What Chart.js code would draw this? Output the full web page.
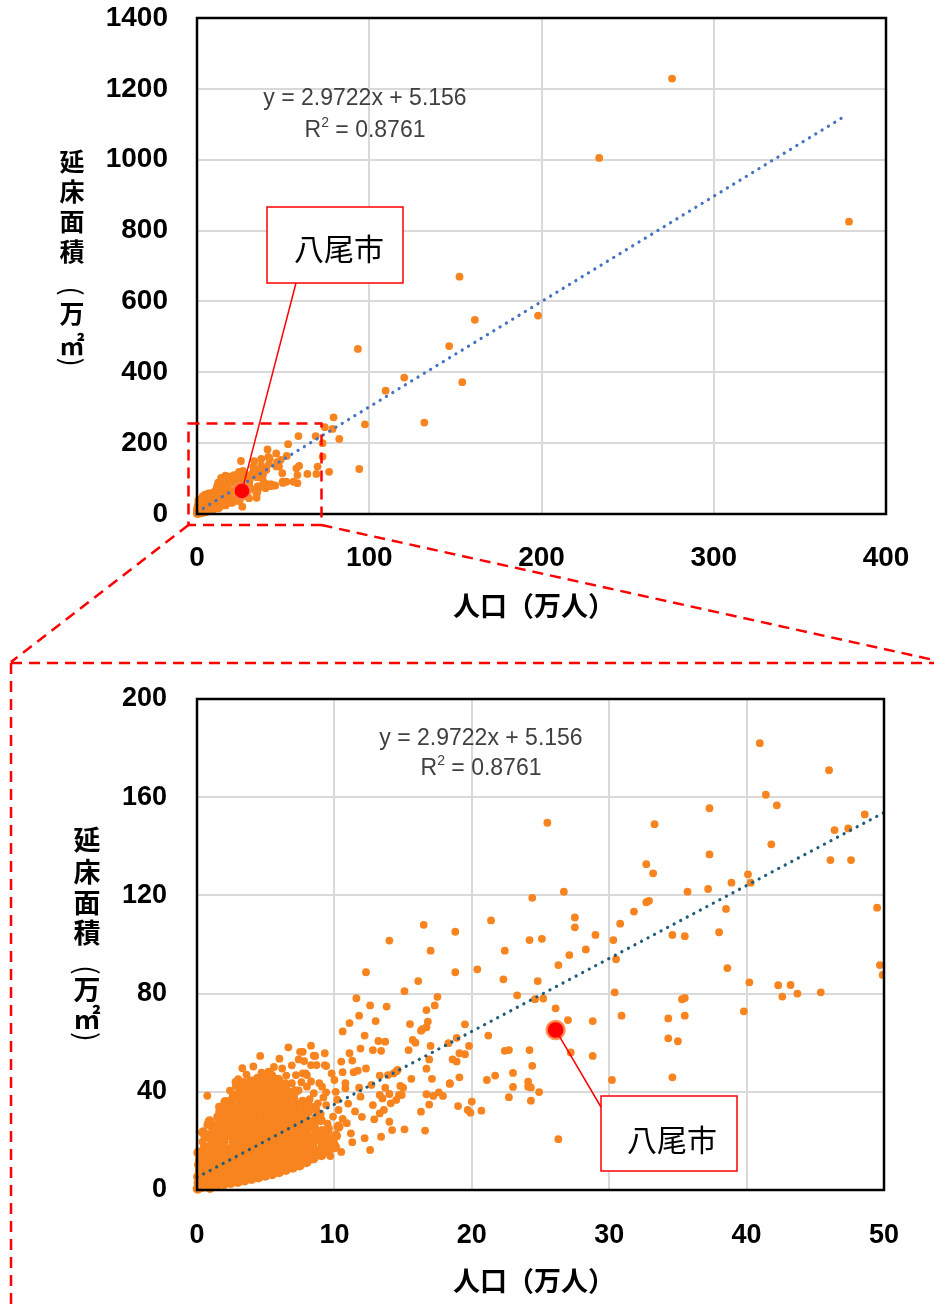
<!DOCTYPE html>
<html><head><meta charset="utf-8">
<script src="https://cdn.jsdelivr.net/npm/chart.js@4.4.1/dist/chart.umd.min.js"></script>
<style>
html,body{margin:0;padding:0;background:#fff;width:934px;height:1309px;overflow:hidden}
canvas{position:absolute;left:0}
#c1{top:0}
#c2{top:660px}
#ov{top:0;pointer-events:none}
</style></head><body>
<canvas id="c1" width="934" height="640"></canvas>
<canvas id="c2" width="934" height="649"></canvas>
<canvas id="ov" width="934" height="1309"></canvas>
<script>
// ---------- DATA (人口 万人, 延床面積 万㎡) ----------
const denseCluster = [
[0.05,0.6],[0.12,2.9],[0.08,5.4],[0.21,7.8],[0.15,10.3],[0.27,12.9],[0.10,15.2],[0.33,4.1],[0.30,1.2],[0.25,9.1],
[0.52,1.5],[0.61,4.3],[0.48,6.7],[0.66,9.5],[0.55,12.0],[0.71,14.6],[0.58,17.4],[0.63,21.8],[0.45,23.5],
[0.95,0.9],[1.08,3.6],[0.99,6.4],[1.12,9.0],[1.02,11.9],[1.15,14.3],[0.97,17.0],[1.10,19.8],[1.05,22.6],[1.18,25.1],[0.92,28.0],
[1.45,1.8],[1.56,4.7],[1.49,7.2],[1.62,10.1],[1.41,12.8],[1.58,15.9],[1.52,18.4],[1.66,21.3],[1.47,24.1],[1.60,26.9],[1.55,29.8],[1.70,32.2],
[1.96,2.4],[2.07,5.3],[1.92,8.1],[2.11,10.6],[2.02,13.5],[2.16,16.3],[1.94,19.2],[2.09,21.9],[2.04,24.8],[2.19,27.5],[1.99,30.4],[2.13,33.1],[2.06,35.8],
[2.46,2.9],[2.58,5.8],[2.51,8.6],[2.62,11.4],[2.44,14.2],[2.56,17.1],[2.67,19.9],[2.49,22.7],[2.60,25.6],[2.53,28.4],[2.65,31.2],[2.47,34.0],[2.59,36.9],[2.70,38.6],
[2.97,3.3],[3.08,6.1],[2.93,9.0],[3.12,11.9],[3.03,14.7],[3.16,17.5],[2.95,20.4],[3.10,23.2],[3.01,26.1],[3.18,28.9],[2.99,31.8],[3.14,34.6],[3.05,37.5],[3.20,40.1],[2.91,42.6],
[3.47,3.9],[3.58,6.8],[3.43,9.6],[3.62,12.4],[3.51,15.3],[3.66,18.1],[3.45,21.0],[3.60,23.8],[3.53,26.7],[3.68,29.5],[3.49,32.4],[3.64,35.2],[3.55,38.1],[3.70,40.9],[3.41,43.5],
[3.97,4.5],[4.09,7.3],[3.93,10.2],[4.12,13.0],[4.02,15.9],[4.16,18.7],[3.95,21.6],[4.10,24.4],[4.04,27.3],[4.19,30.1],[3.99,33.0],[4.14,35.8],[4.06,38.7],[4.21,41.5],[3.92,44.2],
[4.47,5.1],[4.59,7.9],[4.43,10.8],[4.62,13.6],[4.51,16.5],[4.66,19.3],[4.45,22.2],[4.60,25.0],[4.53,27.9],[4.69,30.7],[4.49,33.6],[4.64,36.4],[4.55,39.3],[4.71,42.0],[4.42,45.3],
[4.97,5.8],[5.09,8.6],[4.93,11.5],[5.12,14.3],[5.02,17.2],[5.16,20.0],[4.95,22.9],[5.10,25.7],[5.04,28.6],[5.19,31.4],[4.99,34.3],[5.14,37.1],[5.06,40.0],[5.21,42.8],[4.92,45.9],
[5.47,6.5],[5.59,9.3],[5.43,12.2],[5.62,15.0],[5.51,17.9],[5.66,20.7],[5.45,23.6],[5.60,26.4],[5.53,29.3],[5.69,32.1],[5.49,35.0],[5.64,37.8],[5.55,40.7],[5.71,43.4],[5.40,46.6],
[5.97,7.3],[6.09,10.1],[5.93,13.0],[6.12,15.8],[6.02,18.7],[6.16,21.5],[5.95,24.4],[6.10,27.2],[6.04,30.1],[6.19,32.9],[5.99,35.8],[6.14,38.6],[6.06,41.4],[5.91,44.9],
[6.47,8.2],[6.59,11.0],[6.43,13.9],[6.62,16.7],[6.51,19.6],[6.66,22.4],[6.45,25.3],[6.60,28.1],[6.53,31.0],[6.69,33.8],[6.49,36.7],[6.64,39.9],[6.41,43.0],
[6.97,9.1],[7.09,11.9],[6.93,14.8],[7.12,17.6],[7.02,20.5],[7.16,23.3],[6.95,26.2],[7.10,29.0],[7.04,31.9],[7.19,34.7],[6.99,37.6],[7.14,40.2],
[7.47,10.0],[7.59,12.8],[7.43,15.7],[7.62,18.5],[7.51,21.4],[7.66,24.2],[7.45,27.1],[7.60,29.9],[7.53,32.8],[7.69,35.9],
[7.97,11.3],[8.09,14.1],[7.93,17.0],[8.12,19.8],[8.02,22.7],[8.16,25.8],[7.95,28.6],[8.10,31.9],[8.05,34.6],
[8.47,12.9],[8.59,16.0],[8.43,19.2],[8.62,22.3],[8.51,25.6],[8.66,29.1],[8.45,33.5],
[9.05,14.2],[9.15,18.1],[8.98,20.5],[9.12,24.0],[9.00,28.5],
[9.55,15.6],[9.62,20.3],[9.48,23.9],[10.05,17.5],[10.12,22.1],[10.30,25.8]
];
const smallCities = [
[6.65,58.1],[4.6,54.6],[6.0,53.5],[7.5,56.3],[8.6,54.6],[7.8,52.5],[9.4,50.5],[8.7,50.9],[5.2,48.2],[4.7,47.8],
[6.5,46.6],[7.2,46.8],[7.9,47.5],[3.3,49.6],[4.5,43.5],[0.75,38.4],[2.3,34.9],[3.7,39.0],[5.7,39.4],[5.9,42.1],
[6.9,43.5],[9.1,42.1],[8.0,42.1],[9.4,39.8],[8.5,39.4],[10.1,40.0],[10.8,41.4],[11.9,38.0],[12.8,34.6],[12.9,28.8],
[13.3,31.2],[12.0,29.8],[11.2,23.1],[12.2,21.1],[12.6,16.3],[10.9,27.2],[10.3,32.6],[9.9,29.9],[9.4,34.6],[8.7,32.6],
[9.6,25.1],[8.7,21.7],[7.9,25.8],[7.1,21.7],[7.9,16.3],[8.5,12.6],[6.7,10.9],[5.7,12.2],[0.75,26.5],[0.4,19.7],
[0.87,16.3],[0.15,12.2],[4.9,41.2],[5.4,44.0],[6.2,41.0],[6.8,38.8],[7.4,40.6],[7.6,43.9],[8.2,37.0],[8.8,35.3],
[9.2,37.7],[5.1,36.0],[6.3,35.4],[7.0,33.1],[7.8,30.0],[8.3,27.9],[9.0,31.0],[10.2,36.8],[11.0,35.2],[11.5,32.0],
[10.6,29.0],[9.5,27.0],[9.2,22.6],[8.1,19.7],[10.0,19.0],[11.3,19.5],[10.5,15.5],[9.5,17.0],[9.7,13.8],
[3.0,45.2],[3.6,47.0],[4.1,50.3],[5.6,50.1],[6.2,49.5],[6.9,50.8],[2.4,40.5],[1.6,34.0],[2.8,44.0],
[13.5,37.3],[13.6,32.6],[14.0,27.8],[14.2,24.4],[13.4,21.7],[14.5,36.7],[14.7,38.7],[14.1,35.3]
];
const midCities = [
[12.3,88.7],[11.6,78.1],[12.6,75.2],[11.8,71.0],[13.0,68.8],[11.1,68.0],[16.7,66.3],[10.6,64.6],[12.2,62.9],[13.2,60.7],
[8.3,58.8],[11.9,57.6],[12.8,57.0],[18.3,59.8],[9.3,55.7],[8.5,54.7],[11.1,55.7],[11.3,52.7],[7.7,56.3],[7.4,53.2],
[8.3,50.9],[9.3,50.9],[10.5,52.3],[12.3,49.5],[13.3,46.6],[10.6,48.0],[11.4,48.0],[11.7,48.6],[9.8,47.5],[10.0,44.8],
[8.0,46.8],[7.7,47.5],[13.9,46.8],[14.5,48.3],[12.7,42.8],[11.8,41.7],[10.8,43.5],[8.9,43.5],[8.3,44.2],[13.7,41.7],
[14.0,39.1],[15.0,41.7],[14.9,38.7],[13.3,38.7],[18.4,43.5],[16.5,108.0],
[14.0,101.6],[18.8,105.2],[17.0,97.5],[22.4,97.5],[27.1,95.7],[28.3,98.0],[30.5,94.0],[26.3,91.6],[18.8,88.7],[20.4,89.9],
[16.1,85.1],[22.3,85.8],[24.8,85.1],[15.1,81.0],[17.5,78.7],[23.3,79.3],[25.2,78.0],[24.6,77.7],[30.4,80.5],[13.8,74.7],
[16.7,73.3],[17.3,75.2],[26.1,74.0],[27.0,69.2],[28.8,68.8],[30.9,71.0],[19.5,67.5],[15.5,67.6],[16.8,68.6],[16.4,65.5],
[16.3,64.9],[21.2,62.9],[18.9,62.0],[15.7,61.1],[15.9,60.0],[13.7,60.4],[17.0,58.7],[19.8,58.7],[15.4,57.0],[13.4,56.7],
[22.4,56.7],[22.7,57.0],[24.2,57.0],[19.1,55.7],[19.5,55.3],[18.6,53.2],[18.9,52.3],[16.9,53.2],[27.2,56.0],[28.8,54.6],
[24.4,50.6],[16.7,49.4],[14.6,48.9],[14.3,47.5],[23.0,47.7],[21.7,46.6],[21.1,44.8],[15.6,45.3],[17.1,45.3],[19.1,45.9],
[18.4,43.2],[24.1,44.1],[24.1,42.1],[23.0,42.0],[24.3,41.8],[30.2,44.8],[24.9,39.9],[14.8,42.4],[17.6,39.8],[17.9,38.3],
[16.7,39.0],[17.2,38.3],[22.7,37.8],[24.3,36.4],[16.9,34.8],[19.0,34.2],[20.0,36.0],[19.7,32.6],[19.9,31.5],[20.7,32.3],
[16.3,31.9],[15.1,24.7],[16.6,24.2],[26.3,20.7],
[40.96,182],[46.0,171],[41.4,161],[42.2,156.7],[37.3,155.5],[25.5,149.6],[33.3,149],[48.6,153],[46.4,146.6],[47.4,147.3],
[41.8,140.8],[37.3,136.7],[46.1,134.4],[47.6,134.4],[32.7,132.7],[33.2,129],[40.1,128.6],[40.3,125.2],[38.9,125.2],[35.7,121.5],
[37.2,122.6],[26.7,121.5],[24.4,119],[49.5,115],[38.5,114.5],[32.9,117.8],[32.7,117.2],[31.8,113.4],[30.8,108.5],[21.4,109.8],
[27.5,111],[27.5,107],[38.0,105],[29.0,103.9],[34.6,103.9],[35.5,103.4],[24.2,101.8],[25.1,102.3],[30.3,101.8],
[38.6,90.4],[49.7,91.6],[49.9,87.6],[40.2,84.6],[42.3,83.4],[43.2,83.5],[42.6,78.8],[43.7,80.0],[45.4,80.5],[35.3,77.7],
[35.5,78.2],[39.8,72.8],[34.3,69.9],[35.5,71.0],[34.3,61.8],[35.0,60.6],[34.6,45.9]
];
const largeCities = [
[52.9,197],[58.9,220],[68.9,220],[72.9,200],[74.2,245],[78.7,240],[79.3,273],[82.6,212],[72.9,162],[52.1,164],
[59.3,136],[64.1,113],[69.3,113],[70.0,134],[58.3,110],[58.3,87],[51.9,91],[57.7,129],[56.0,91],[76.7,119],
[93.4,466],[97.5,253],[94.2,127],[109.5,348],[120.3,385],[132.0,258],[146.4,474],[152.4,670],[154.0,372],[161.3,548],
[198.0,560],[233.5,1005],[275.8,1229],[378.5,825]
];
const yaoCity = [26.1, 65.2];           // 八尾市
const trendSlope = 2.9722, trendIntercept = 5.156;
const trendRangeTop = [0, 375];
const trendRangeBottom = [0, 50];
const xTicksTop = [0,100,200,300,400], yTicksTop = [0,200,400,600,800,1000,1200,1400];
const xTicksBottom = [0,10,20,30,40,50], yTicksBottom = [0,40,80,120,160,200];

// ---------- STYLE ----------
const ORANGE = '#F7841E';
const NUMFONT = '"Liberation Sans", Arial, sans-serif';
const JPFONT = '"Noto Sans CJK JP", "Noto Sans", sans-serif';
const toPts = a => a.map(p => ({x:p[0], y:p[1]}));
const trendPts = r => r.map(x => ({x, y: trendSlope*x + trendIntercept}));

function makeScales(xt, yt, fsize, xpad, ypad, xH){
  const grid = {color:'#D9D9D9', lineWidth:2, drawTicks:false};
  return {
    x:{type:'linear', min:xt[0], max:xt[xt.length-1], position:'bottom',
       afterBuildTicks(s){ s.ticks = xt.map(v=>({value:v})); },
       ticks:{font:{family:NUMFONT,size:fsize,weight:'bold'}, color:'#000', padding:xpad, maxRotation:0, autoSkip:false,
              callback:v=>String(v)},
       grid, border:{display:false},
       afterFit(s){ s.height = xH; s.paddingLeft = 0; s.paddingRight = 0; }},
    y:{type:'linear', min:yt[0], max:yt[yt.length-1],
       afterBuildTicks(s){ s.ticks = yt.map(v=>({value:v})); },
       ticks:{font:{family:NUMFONT,size:fsize,weight:'bold'}, color:'#000', padding:ypad, autoSkip:false,
              callback:v=>String(v)},
       grid, border:{display:false},
       afterFit(s){ s.width = 197; s.paddingTop = 0; s.paddingBottom = 0; }}
  };
}

// vertical (tategaki) axis title; brackets are rotated glyphs
function drawVertical(ctx, items, x, size){
  ctx.save();
  ctx.fillStyle = '#000'; ctx.textAlign='center'; ctx.textBaseline='middle';
  items.forEach(it=>{
    if (it.rot){
      ctx.save(); ctx.translate(x, it.y); ctx.rotate(Math.PI/2);
      ctx.font = (size+2)+'px '+JPFONT;
      ctx.fillText(it.t, 0, 0); ctx.restore();
    } else {
      ctx.font = 'bold '+size+'px '+JPFONT;
      ctx.fillText(it.t, x, it.y);
    }
  });
  ctx.restore();
}
function drawEquation(ctx, cx, y1, y2, size){
  ctx.save();
  ctx.fillStyle = '#404040';
  ctx.font = size+'px '+NUMFONT;
  ctx.textAlign='center'; ctx.textBaseline='alphabetic';
  ctx.fillText('y = 2.9722x + 5.156', cx, y1);
  const a='R', b=' = 0.8761';
  const wa=ctx.measureText(a).width, wb=ctx.measureText(b).width;
  ctx.font = Math.round(size*0.62)+'px '+NUMFONT;
  const ws = ctx.measureText('2').width;
  const left = cx - (wa+ws+wb)/2;
  ctx.textAlign='left';
  ctx.font = size+'px '+NUMFONT;
  ctx.fillText(a, left, y2);
  ctx.fillText(b, left+wa+ws, y2);
  ctx.font = Math.round(size*0.62)+'px '+NUMFONT;
  ctx.fillText('2', left+wa, y2 - size*0.42);
  ctx.restore();
}
function drawLabelBox(ctx, x1, y1, x2, y2, tx, ty, size){
  ctx.save();
  ctx.fillStyle='#fff'; ctx.fillRect(x1,y1,x2-x1,y2-y1);
  ctx.strokeStyle='#FF0000'; ctx.lineWidth=1.5; ctx.strokeRect(x1,y1,x2-x1,y2-y1);
  ctx.fillStyle='#000'; ctx.font = size+'px '+JPFONT; ctx.textAlign='center'; ctx.textBaseline='middle';
  ctx.fillText('八尾市', tx, ty);
  ctx.restore();
}

const framePlugin = {
  id:'frame',
  afterDatasetsDraw(chart){
    const {ctx, chartArea:a} = chart;
    ctx.save(); ctx.strokeStyle='#000'; ctx.lineWidth=2.5;
    ctx.strokeRect(a.left, a.top, a.right-a.left, a.bottom-a.top);
    ctx.restore();
  }
};

function datasets(dense, others, trendRange, trendColor, yaoR, denseR){
  const clipR = {left:false, top:false, right:0, bottom:false};
  return [
    {label:'八尾市', data:toPts([yaoCity]), pointRadius:yaoR, pointBackgroundColor:'#FF0000',
     pointBorderColor:'rgba(255,140,70,0.85)', pointBorderWidth:2.5, order:0, clip:false},
    {label:'線形近似', data:trendPts(trendRange), showLine:true, borderColor:trendColor, borderWidth:3.2,
     borderDash:[0.1,7.3], borderCapStyle:'round', pointRadius:0, order:1, clip:false},
    {label:'市区町村', data:toPts(others), pointRadius:3.9, pointBackgroundColor:ORANGE, pointBorderWidth:0,
     order:2, clip:clipR},
    {label:'市区町村(小)', data:toPts(dense), pointRadius:denseR, pointBackgroundColor:ORANGE, pointBorderWidth:0,
     order:3, clip:clipR}
  ];
}
const common = {responsive:false, animation:false, devicePixelRatio:1, events:[],
  plugins:{legend:{display:false}, tooltip:{enabled:false}}};

// ---------- TOP CHART ----------
const otherTop = smallCities.concat(midCities, largeCities);
new Chart(document.getElementById('c1'), {
  type:'scatter',
  data:{datasets: datasets(denseCluster, otherTop, trendRangeTop, '#4472C4', 8.5, 3.9)},
  options:Object.assign({}, common, {
    layout:{padding:{top:18, right:48, left:0, bottom:0}},
    scales: makeScales(xTicksTop, yTicksTop, 28, 27, 29, 126)
  }),
  plugins:[framePlugin, {
    id:'topDeco',
    afterDraw(chart){
      const ctx = chart.ctx;
      drawVertical(ctx, [{t:'延',y:161},{t:'床',y:191},{t:'面',y:221},{t:'積',y:251},
        {t:'(',y:291,rot:true},{t:'万',y:313},{t:'㎡',y:345},{t:')',y:362,rot:true}], 72, 25);
      ctx.save(); ctx.font='bold 27px '+JPFONT; ctx.fillStyle='#000'; ctx.textAlign='center'; ctx.textBaseline='middle';
      ctx.fillText('人口（万人）', 534, 606); ctx.restore();
      drawEquation(ctx, 365, 105, 137, 23);
      const px = chart.scales.x.getPixelForValue(yaoCity[0]), py = chart.scales.y.getPixelForValue(yaoCity[1]);
      ctx.save(); ctx.strokeStyle='#FF0000'; ctx.lineWidth=1.5;
      ctx.beginPath(); ctx.moveTo(296,283); ctx.lineTo(px,py); ctx.stroke(); ctx.restore();
      drawLabelBox(ctx, 267, 207, 403, 283, 339, 249, 30);
    }
  }]
});

// ---------- BOTTOM CHART ----------
const otherBottom = smallCities.concat(midCities).filter(p=>p[0]<=50.5);
new Chart(document.getElementById('c2'), {
  type:'scatter',
  data:{datasets: datasets(denseCluster, otherBottom, trendRangeBottom, '#1F5C7E', 9, 5.1)},
  options:Object.assign({}, common, {
    layout:{padding:{top:39, right:50, left:0, bottom:0}},
    scales: makeScales(xTicksBottom, yTicksBottom, 27, 29, 30, 119)
  }),
  plugins:[framePlugin, {
    id:'bottomDeco',
    afterDraw(chart){
      const ctx = chart.ctx, o = 660;
      drawVertical(ctx, [{t:'延',y:840-o},{t:'床',y:872-o},{t:'面',y:903-o},{t:'積',y:933-o},
        {t:'(',y:970-o,rot:true},{t:'万',y:990-o},{t:'㎡',y:1019-o},{t:')',y:1037-o,rot:true}], 87, 27);
      ctx.save(); ctx.font='bold 27px '+JPFONT; ctx.fillStyle='#000'; ctx.textAlign='center'; ctx.textBaseline='middle';
      ctx.fillText('人口（万人）', 534, 1281-o); ctx.restore();
      drawEquation(ctx, 481, 745-o, 775-o, 23);
      const px = chart.scales.x.getPixelForValue(yaoCity[0]), py = chart.scales.y.getPixelForValue(yaoCity[1]);
      ctx.save(); ctx.strokeStyle='#FF0000'; ctx.lineWidth=1.5;
      ctx.beginPath(); ctx.moveTo(px,py); ctx.lineTo(601,1107-o); ctx.stroke(); ctx.restore();
      drawLabelBox(ctx, 601, 1096-o, 737, 1171-o, 672, 1140-o, 30);
    }
  }]
});

// ---------- ZOOM CONNECTORS (overlay) ----------
(function(){
  const ctx = document.getElementById('ov').getContext('2d');
  ctx.strokeStyle='#FF0000'; ctx.lineWidth=2.5; ctx.setLineDash([11,7]);
  ctx.strokeRect(188.5, 423.5, 133, 101.5);
  const seg=(a,b,c,d)=>{ctx.beginPath(); ctx.moveTo(a,b); ctx.lineTo(c,d); ctx.stroke();};
  seg(188.5,525,11,662);
  seg(321.5,525,934,660);
  seg(11,663,934,663);
  seg(11,663,11,1309);
})();
</script></body></html>
